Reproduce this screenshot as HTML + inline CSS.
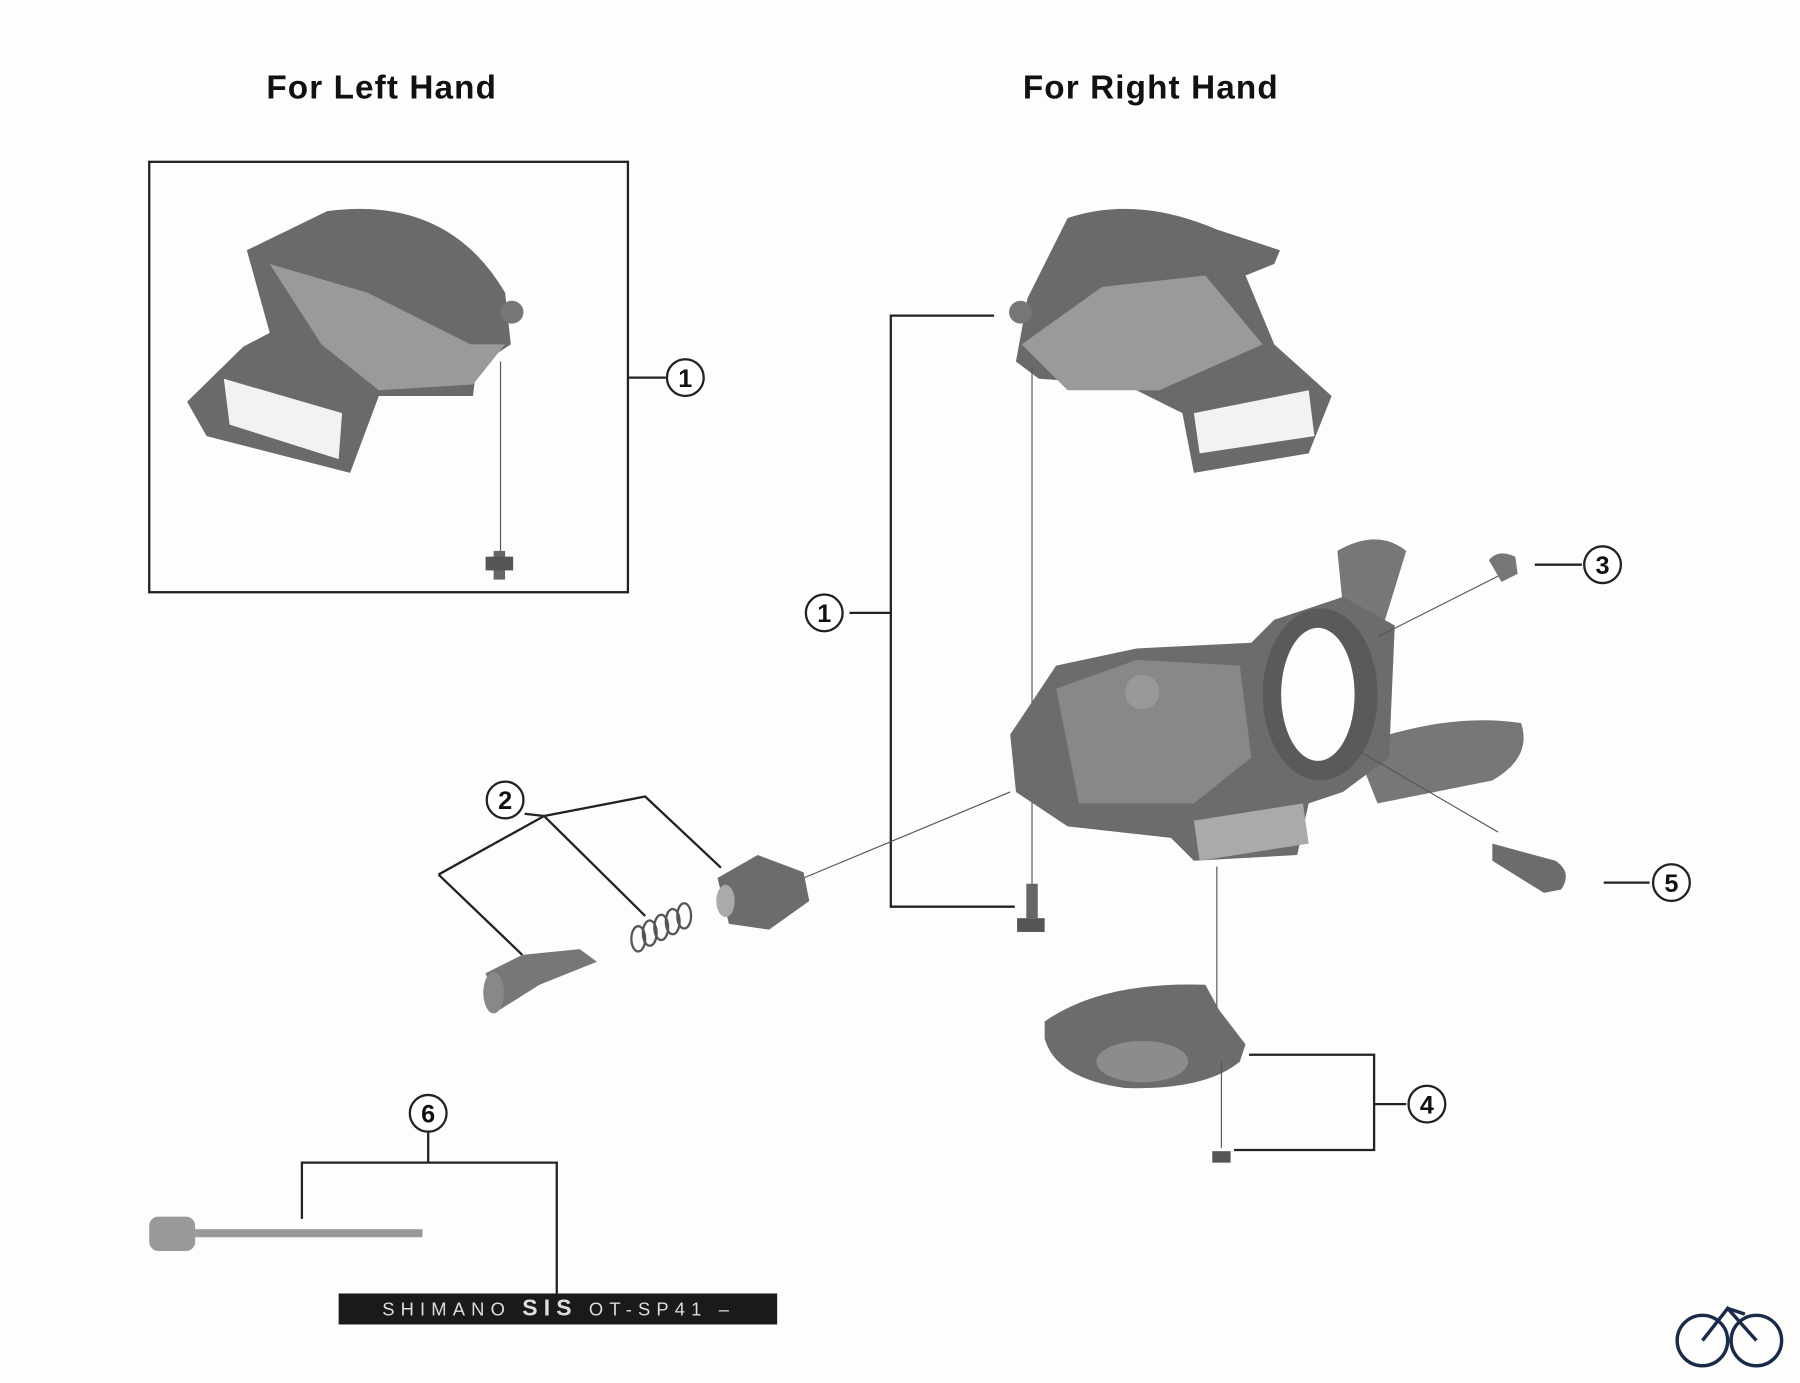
<!DOCTYPE html>
<html><head><meta charset="utf-8"><style>
html,body{margin:0;padding:0;background:#fdfdfb;}
svg{display:block}
text{font-family:"Liberation Sans",sans-serif;}
</style></head><body>
<svg width="1800" height="1383" viewBox="0 0 1568 1205" preserveAspectRatio="none" xmlns="http://www.w3.org/2000/svg">
<rect width="1568" height="1205" fill="#fdfdfb"/>
<text x="332" y="86" font-size="29" font-weight="bold" text-anchor="middle" fill="#111" textLength="200">For Left Hand</text>
<text x="1002" y="86" font-size="29" font-weight="bold" text-anchor="middle" fill="#111" textLength="222">For Right Hand</text>
<rect x="130" y="141" width="417" height="375" fill="none" stroke="#222" stroke-width="2"/>
<g stroke="#222" stroke-width="2" fill="none">
<path d="M547 329 H580"/>
<path d="M866 275 H776 V790 H884"/><path d="M740 534 H776"/>
<path d="M1337 492 H1378"/><path d="M1397 769 H1437"/>
<path d="M1088 919 H1197 V1002 H1075"/><path d="M1197 962 H1225"/>
<path d="M382 762 L455 832"/><path d="M382 762 L474 711"/><path d="M474 711 L562 798"/><path d="M474 711 L562 694 L628 756"/><path d="M457 709 L474 711"/>
<path d="M263 1062 V1013 H485 V1127"/><path d="M373 983 V1013"/>
</g>
<g stroke="#222" stroke-width="2" fill="#fff">
<circle cx="597" cy="329" r="16"/><circle cx="718" cy="534" r="16"/><circle cx="440" cy="697" r="16"/>
<circle cx="1396" cy="492" r="16"/><circle cx="1456" cy="769" r="16"/><circle cx="1243" cy="962" r="16"/><circle cx="373" cy="970" r="16"/>
</g>
<g font-size="22" font-weight="bold" text-anchor="middle" fill="#111">
<text x="597" y="337">1</text><text x="718" y="542">1</text><text x="440" y="705">2</text>
<text x="1396" y="500">3</text><text x="1456" y="777">5</text><text x="1243" y="970">4</text><text x="373" y="978">6</text>
</g>
<!-- left cover -->
<g>
<path d="M215 218 L285 184 Q390 170 440 255 L445 300 L415 320 L412 345 L330 345 L305 412 L180 380 L163 350 L212 302 L235 290 Z" fill="#6a6a6a"/>
<path d="M235 230 L320 255 L410 300 L440 300 L412 335 L330 340 L280 300 Z" fill="#9a9a9a"/>
<path d="M195 330 L298 360 L295 400 L200 370 Z" fill="#f2f2f2"/>
<circle cx="446" cy="272" r="10" fill="#777"/>
<line x1="436" y1="315" x2="436" y2="480" stroke="#555"/>
<rect x="430" y="480" width="10" height="25" fill="#666"/><rect x="423" y="485" width="24" height="12" fill="#555"/>
</g>
<!-- right cover -->
<g>
<path d="M930 190 Q990 170 1060 200 L1115 218 L1110 230 L1085 240 L1110 300 L1160 345 L1140 395 L1040 412 L1030 360 L980 335 L905 330 L885 315 L895 260 Z" fill="#6a6a6a"/>
<path d="M890 300 L960 250 L1050 240 L1100 300 L1010 340 L930 340 Z" fill="#9a9a9a"/>
<path d="M1040 360 L1140 340 L1145 380 L1045 395 Z" fill="#f2f2f2"/>
<circle cx="889" cy="272" r="10" fill="#777"/>
<line x1="899" y1="320" x2="899" y2="770" stroke="#555"/>
<rect x="894" y="770" width="10" height="30" fill="#666"/><rect x="886" y="800" width="24" height="12" fill="#555"/>
</g>
<!-- main body -->
<g>
<path d="M1165 480 Q1200 460 1225 480 L1205 545 L1170 530 Z" fill="#777"/>
<path d="M1180 650 Q1260 620 1325 630 Q1335 660 1300 680 L1200 700 Z" fill="#777"/>
<path d="M880 640 L920 580 L990 565 L1090 560 L1110 540 L1170 520 L1215 545 L1210 660 L1170 690 L1140 700 L1130 745 L1040 750 L1020 730 L930 720 L885 690 Z" fill="#6c6c6c"/>
<path d="M920 600 L990 575 L1080 580 L1090 660 L1040 700 L940 700 Z" fill="#888"/>
<ellipse cx="1150" cy="605" rx="50" ry="75" fill="#5a5a5a"/>
<ellipse cx="1148" cy="605" rx="32" ry="58" fill="#fdfdfb"/>
<circle cx="995" cy="603" r="15" fill="#999"/>
<path d="M1040 715 L1135 700 L1140 735 L1045 750 Z" fill="#aaa"/>
<line x1="1200" y1="555" x2="1305" y2="502" stroke="#555"/>
<path d="M1297 488 Q1305 478 1320 485 L1322 500 L1308 507 Z" fill="#777"/>
<line x1="1185" y1="655" x2="1305" y2="725" stroke="#555"/>
<path d="M1300 735 L1355 750 Q1370 760 1360 775 L1345 778 L1300 750 Z" fill="#6c6c6c"/>
<line x1="1060" y1="755" x2="1060" y2="880" stroke="#555"/>
<path d="M910 890 Q960 855 1050 858 L1062 880 L1085 910 L1080 925 Q1050 950 980 948 Q920 940 910 905 Z" fill="#6c6c6c"/>
<ellipse cx="995" cy="925" rx="40" ry="18" fill="#8c8c8c"/>
<line x1="1064" y1="925" x2="1064" y2="1000" stroke="#555"/>
<rect x="1056" y="1003" width="16" height="10" fill="#555"/>
</g>
<!-- adjuster parts -->
<line x1="700" y1="765" x2="880" y2="690" stroke="#555"/>
<path d="M625 765 L660 745 L700 760 L705 785 L670 810 L635 805 Z" fill="#6c6c6c"/>
<ellipse cx="632" cy="785" rx="8" ry="14" fill="#aaa"/>
<g fill="none" stroke="#555" stroke-width="2"><ellipse cx="556" cy="818" rx="6" ry="11"/><ellipse cx="566" cy="813" rx="6" ry="11"/><ellipse cx="576" cy="808" rx="6" ry="11"/><ellipse cx="586" cy="803" rx="6" ry="11"/><ellipse cx="596" cy="798" rx="6" ry="11"/></g>
<path d="M423 848 L455 832 L505 827 L520 838 L470 858 L435 880 Z" fill="#777"/>
<ellipse cx="430" cy="865" rx="9" ry="18" fill="#888"/>
<!-- cable -->
<rect x="130" y="1060" width="40" height="30" rx="8" fill="#999"/>
<rect x="170" y="1071" width="198" height="7" fill="#999"/>
<rect x="295" y="1127" width="382" height="27" fill="#1a1a1a"/>
<text x="333" y="1146" font-size="16" fill="#ddd" textLength="302">SHIMANO <tspan font-size="20" font-weight="bold">SIS</tspan> OT-SP41 –</text>
<!-- logo -->
<g fill="none" stroke="#1a2a4a" stroke-width="3"><circle cx="1483" cy="1168" r="22"/><circle cx="1530" cy="1168" r="22"/><path d="M1483 1168 L1505 1140 L1530 1168 M1505 1140 L1520 1145"/></g>
</svg>
</body></html>
